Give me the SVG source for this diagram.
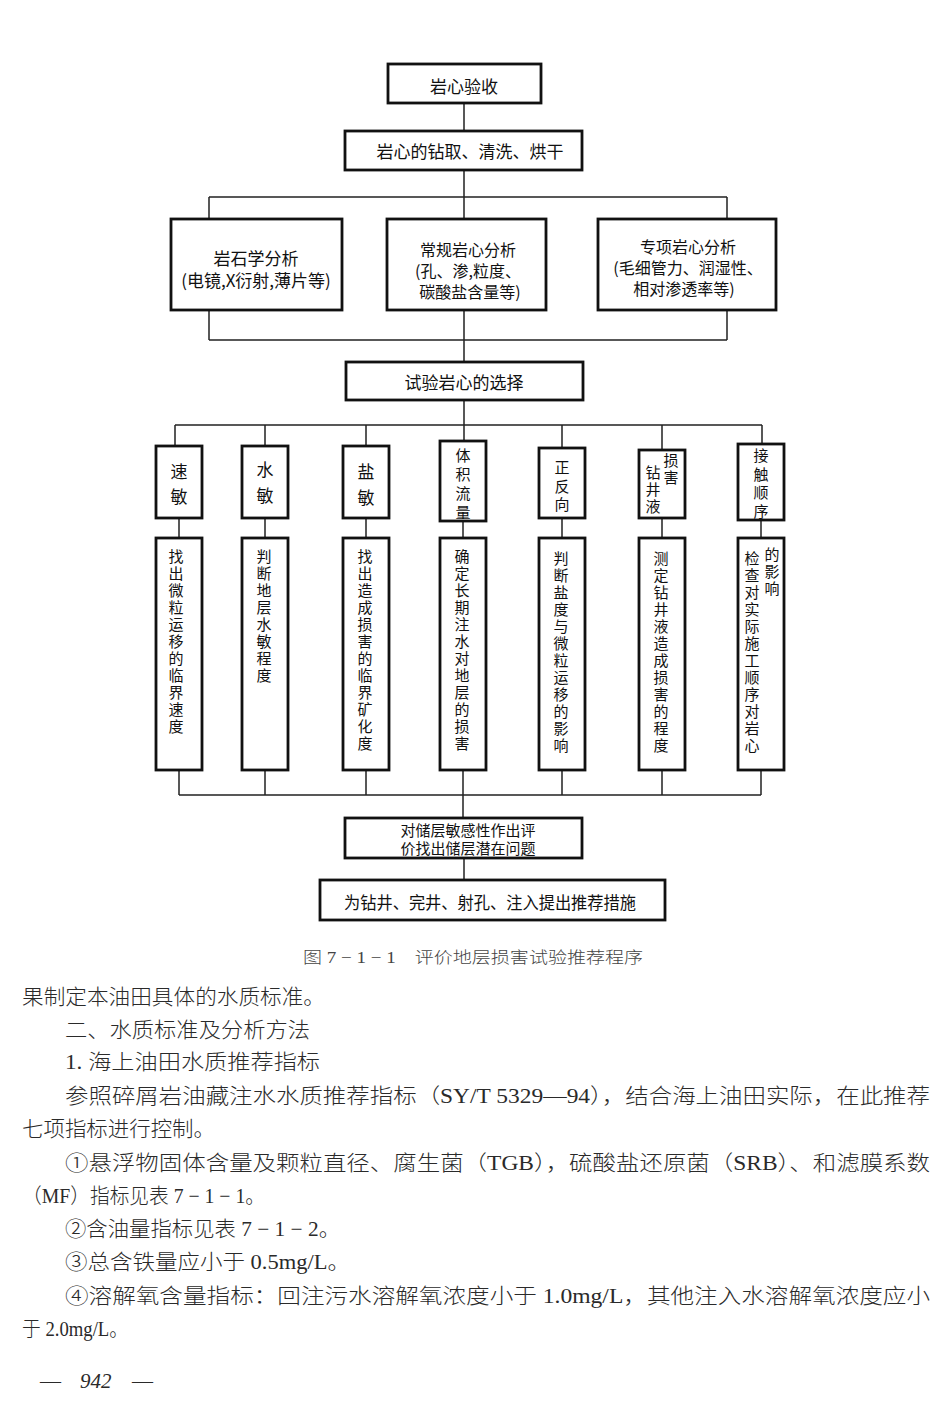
<svg xmlns="http://www.w3.org/2000/svg" width="950" height="1418" viewBox="0 0 950 1418">
<style>
.box{fill:#fff;stroke:#111;stroke-width:2.8}
.ln{stroke:#222;stroke-width:1.5;fill:none}
.t{font-family:"Noto Sans CJK SC",sans-serif;font-size:17px;fill:#111;text-anchor:middle;dominant-baseline:central}
.m{font-family:"Noto Sans CJK SC",sans-serif;font-size:16px;fill:#111;text-anchor:middle;dominant-baseline:central}
.s{font-family:"Noto Sans CJK SC",sans-serif;font-size:15px;fill:#111;text-anchor:middle;dominant-baseline:central}
.v{font-family:"Noto Sans CJK SC",sans-serif;font-size:15px;fill:#111;text-anchor:middle;dominant-baseline:central}
.cap{font-family:"Liberation Serif","Noto Sans CJK SC",serif;font-size:16px;fill:#444;dominant-baseline:central;font-weight:300}
.b{font-family:"Liberation Serif","Noto Sans CJK SC",serif;font-size:21px;fill:#2a2a2a;dominant-baseline:central;font-weight:300}
</style>
<rect width="950" height="1418" fill="#fff"/>
<g id="connectors">
<path class="ln" d="M464 103V131M464 170V219M209 197H727M209 197V219M727 197V219"/>
<path class="ln" d="M209 310V340M464 310V362M727 310V340M209 340H727"/>
<path class="ln" d="M464 400V441M175 425H762M175 425V446M265 425V446M366 425V446M562 425V448M662 425V450M762 425V444"/>
<path class="ln" d="M179 518V538M265 518V538M366 518V538M463 521V538M562 518V538M662 518V538M761 520V538"/>
<path class="ln" d="M179 770V795M265 770V795M366 770V795M463 770V818M562 770V795M662 770V795M761 770V795M179 795H761"/>
<path class="ln" d="M464 858V880"/>
</g>
<g id="n1"><rect class="box" x="388" y="64" width="153" height="39"/><text class="t" x="464" y="85">岩心验收</text></g>
<g id="n2"><rect class="box" x="345" y="131" width="237" height="39"/><text class="t" x="470" y="150">岩心的钻取、清洗、烘干</text></g>
<g id="n3"><rect class="box" x="171" y="219" width="171" height="91"/><text class="t" x="256" y="257">岩石学分析</text><text class="t" x="256" y="279">(电镜,X衍射,薄片等)</text></g>
<g id="n4"><rect class="box" x="387" y="219" width="159" height="91"/><text class="m" x="468" y="249">常规岩心分析</text><text class="m" x="468" y="270">(孔、渗,粒度、</text><text class="m" x="470" y="291">碳酸盐含量等)</text></g>
<g id="n5"><rect class="box" x="598" y="219" width="178" height="91"/><text class="m" x="688" y="246">专项岩心分析</text><text class="m" x="688" y="267">(毛细管力、润湿性、</text><text class="m" x="684" y="288">相对渗透率等)</text></g>
<g id="n6"><rect class="box" x="346" y="362" width="237" height="38"/><text class="t" x="464" y="381">试验岩心的选择</text></g>
<g id="s1"><rect class="box" x="156" y="446" width="46" height="72"/><text class="t" x="179 179" y="470 495">速敏</text></g>
<g id="s2"><rect class="box" x="242" y="446" width="46" height="72"/><text class="t" x="265 265" y="468 494">水敏</text></g>
<g id="s3"><rect class="box" x="343" y="446" width="46" height="72"/><text class="t" x="366 366" y="470 496">盐敏</text></g>
<g id="s4"><rect class="box" x="440" y="441" width="46" height="80"/><text class="s" x="463 463 463 463" y="454 473 492 511">体积流量</text></g>
<g id="s5"><rect class="box" x="539" y="448" width="46" height="70"/><text class="s" x="562 562 562" y="466 485 503">正反向</text></g>
<g id="s6"><rect class="box" x="639" y="450" width="46" height="68"/><text class="s" x="653 653 653" y="471 488 505" font-size="14">钻井液</text><text class="s" x="671 671" y="459 476" font-size="14">损害</text></g>
<g id="s7"><rect class="box" x="738" y="444" width="46" height="76"/><text class="s" x="761 761 761 761" y="454 473 491 510">接触顺序</text></g>
<g id="d1"><rect class="box" x="156" y="538" width="46" height="232"/><text class="v" x="176 176 176 176 176 176 176 176 176 176 176" y="555 572 589 606 623 640 657 674 691 708 725">找出微粒运移的临界速度</text></g>
<g id="d2"><rect class="box" x="242" y="538" width="46" height="232"/><text class="v" x="264 264 264 264 264 264 264 264" y="555 572 589 606 623 640 657 674">判断地层水敏程度</text></g>
<g id="d3"><rect class="box" x="343" y="538" width="46" height="232"/><text class="v" x="365 365 365 365 365 365 365 365 365 365 365 365" y="555 572 589 606 623 640 657 674 691 708 725 742">找出造成损害的临界矿化度</text></g>
<g id="d4"><rect class="box" x="440" y="538" width="46" height="232"/><text class="v" x="462 462 462 462 462 462 462 462 462 462 462 462" y="555 572 589 606 623 640 657 674 691 708 725 742">确定长期注水对地层的损害</text></g>
<g id="d5"><rect class="box" x="539" y="538" width="46" height="232"/><text class="v" x="561 561 561 561 561 561 561 561 561 561 561 561" y="557 574 591 608 625 642 659 676 693 710 727 744">判断盐度与微粒运移的影响</text></g>
<g id="d6"><rect class="box" x="639" y="538" width="46" height="232"/><text class="v" x="661 661 661 661 661 661 661 661 661 661 661 661" y="557 574 591 608 625 642 659 676 693 710 727 744">测定钻井液造成损害的程度</text></g>
<g id="d7"><rect class="box" x="738" y="538" width="46" height="232"/><text class="v" x="752 752 752 752 752 752 752 752 752 752 752 752" y="557 574 591 608 625 642 659 676 693 710 727 744">检查对实际施工顺序对岩心</text><text class="v" x="772 772 772" y="553 570 587">的影响</text></g>
<g id="n7"><rect class="box" x="345" y="818" width="237" height="40"/><text class="s" x="468" y="829">对储层敏感性作出评<tspan x="468" y="847">价找出储层潜在问题</tspan></text></g>
<g id="n8"><rect class="box" x="320" y="880" width="345" height="40"/><text class="t" x="490" y="901" textLength="292" lengthAdjust="spacingAndGlyphs">为钻井、完井、射孔、注入提出推荐措施</text></g>
<text class="cap" x="303" y="957" textLength="340" lengthAdjust="spacingAndGlyphs">图 7 − 1 − 1　评价地层损害试验推荐程序</text>
<g id="body">
<text class="b" x="22" y="997" textLength="303" lengthAdjust="spacingAndGlyphs">果制定本油田具体的水质标准。</text>
<text class="b" x="65" y="1030" textLength="245" lengthAdjust="spacingAndGlyphs">二、水质标准及分析方法</text>
<text class="b" x="65" y="1062" textLength="255" lengthAdjust="spacingAndGlyphs">1. 海上油田水质推荐指标</text>
<text class="b" x="65" y="1096" textLength="865" lengthAdjust="spacingAndGlyphs">参照碎屑岩油藏注水水质推荐指标（SY/T 5329—94），结合海上油田实际，在此推荐</text>
<text class="b" x="22" y="1129" textLength="193" lengthAdjust="spacingAndGlyphs">七项指标进行控制。</text>
<text class="b" x="65" y="1163" textLength="865" lengthAdjust="spacingAndGlyphs">①悬浮物固体含量及颗粒直径、腐生菌（TGB），硫酸盐还原菌（SRB）、和滤膜系数</text>
<text class="b" x="22" y="1196" textLength="243" lengthAdjust="spacingAndGlyphs">（MF）指标见表 7 − 1 − 1。</text>
<text class="b" x="65" y="1229" textLength="275" lengthAdjust="spacingAndGlyphs">②含油量指标见表 7 − 1 − 2。</text>
<text class="b" x="65" y="1262" textLength="285" lengthAdjust="spacingAndGlyphs">③总含铁量应小于 0.5mg/L。</text>
<text class="b" x="65" y="1296" textLength="865" lengthAdjust="spacingAndGlyphs">④溶解氧含量指标：回注污水溶解氧浓度小于 1.0mg/L，其他注入水溶解氧浓度应小</text>
<text class="b" x="22" y="1329" textLength="106" lengthAdjust="spacingAndGlyphs">于 2.0mg/L。</text>
<text class="b" x="40" y="1381">—</text>
<text class="b" x="80" y="1381" font-style="italic">942</text>
<text class="b" x="132" y="1381">—</text>
</g>
</svg>
